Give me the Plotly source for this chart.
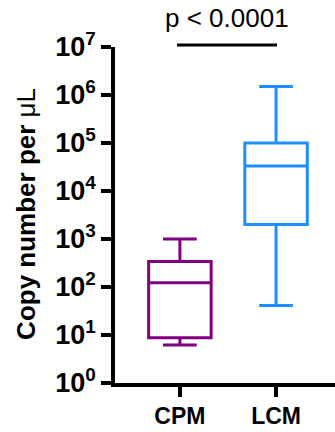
import plotly.graph_objects as go

groups = ["CPM", "LCM"]
lower = [6.2, 41]
q1 = [8.8, 2000]
median = [123, 33000]
q3 = [340, 100000]
upper = [1000, 1500000]
colors = ["#800080", "#1E8FFF"]

tick_vals = [1, 10, 100, 1e3, 1e4, 1e5, 1e6, 1e7]
tick_text = ["10<sup>%d</sup>" % i for i in range(8)]

fig = go.Figure()
for i, g in enumerate(groups):
    fig.add_trace(go.Box(
        x=[g], q1=[q1[i]], median=[median[i]], q3=[q3[i]],
        lowerfence=[lower[i]], upperfence=[upper[i]],
        line=dict(color=colors[i], width=3), fillcolor="rgba(0,0,0,0)",
        width=0.65, whiskerwidth=0.54, boxpoints=False, showlegend=False,
        hoverinfo="skip"))

fig.add_shape(type="line", xref="x", yref="paper", x0=-0.03, x1=1.01,
              y0=1.006, y1=1.006, line=dict(color="black", width=3))
fig.add_annotation(text="p < 0.0001", xref="x", yref="paper", x=0.49, y=1.085,
                   showarrow=False, font=dict(size=26, color="black",
                   family="Liberation Sans, Arial"), xanchor="center", yanchor="middle")
fig.add_annotation(text="<b>Copy number per </b>μL", xref="paper", yref="paper",
                   x=-0.405, y=0.503, textangle=-90, showarrow=False,
                   font=dict(size=26, color="black", family="Liberation Sans, Arial"),
                   xanchor="center", yanchor="middle")

fig.update_layout(
    width=335, height=432, margin=dict(l=115, r=0, t=47, b=49, autoexpand=False),
    plot_bgcolor="white", paper_bgcolor="white",
    font=dict(family="Liberation Sans, Arial", color="black"),
    xaxis=dict(type="category", range=[-0.675, 1.613], showline=True,
               linecolor="black", linewidth=3.5, ticks="outside", ticklen=10,
               tickwidth=3.5, tickcolor="black", showgrid=False, zeroline=False,
               automargin=False,
               tickfont=dict(size=23, family="Liberation Sans, Arial", weight="bold")),
    yaxis=dict(type="log", range=[0, 7], showline=True, linecolor="black",
               linewidth=3.5, ticks="outside", ticklen=10, tickwidth=3.5,
               tickcolor="black", showgrid=False, zeroline=False, automargin=False,
               tickvals=tick_vals, ticktext=tick_text,
               tickfont=dict(size=27, family="Liberation Sans, Arial", weight="bold")),
)

fig.write_html("out.html", config={"displayModeBar": False},
               post_script="document.body.style.margin='0';document.body.style.overflow='hidden';")
